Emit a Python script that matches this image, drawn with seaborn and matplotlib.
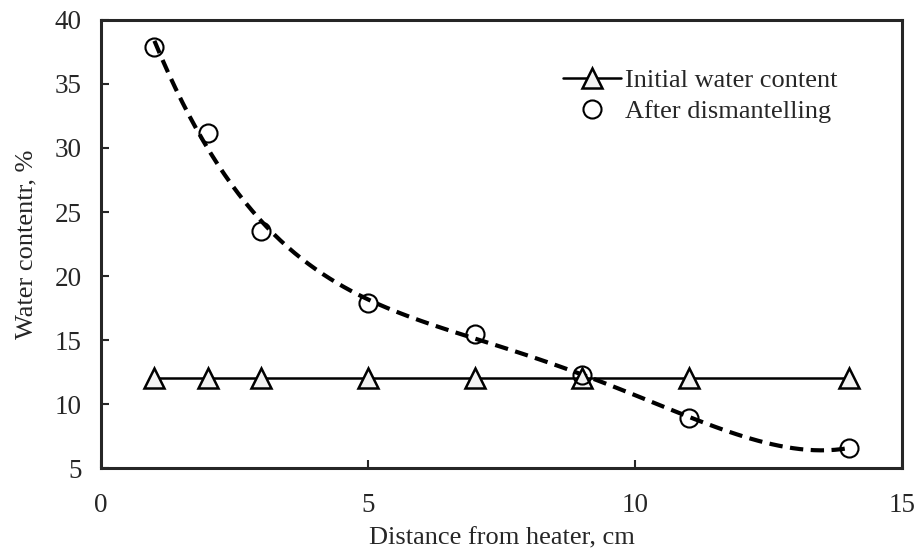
import seaborn as sns
import pandas as pd
import matplotlib.pyplot as plt

# data
distance = [1, 2, 3, 5, 7, 9, 11, 14]
initial_wc = [12, 12, 12, 12, 12, 12, 12, 12]
after_wc = [37.9, 31.2, 23.5, 17.9, 15.5, 12.3, 8.9, 6.6]

df = pd.DataFrame({"distance": distance, "initial": initial_wc, "after": after_wc})

sns.set_style("ticks")
plt.rcParams['font.family'] = ['Liberation Serif', 'DejaVu Serif']
plt.rcParams['xtick.direction'] = 'in'
plt.rcParams['ytick.direction'] = 'in'

fig = plt.figure(figsize=(9.18, 5.54), dpi=100)
ax = fig.add_axes([0.110, 0.155, 0.873, 0.809])

# polynomial trendline through the measured points
sns.regplot(data=df, x="distance", y="after", order=4, ci=None, scatter=False, ax=ax,
            line_kws=dict(color="black", lw=3, ls=(0, (3.2, 1.8)), zorder=2))

sns.lineplot(data=df, x="distance", y="initial", ax=ax, color="black", lw=1.8,
             marker="^", markersize=14, markerfacecolor="#f2f2f2",
             markeredgecolor="black", markeredgewidth=1.8,
             label="Initial water content", zorder=3)
ax.plot(df["distance"], df["after"], ls="none", marker="o", markersize=13,
        markerfacecolor="none", markeredgecolor="black", markeredgewidth=1.5,
        label="After dismantelling", zorder=4)

ax.set_xlim(0, 15)
ax.set_ylim(5, 40)
ax.set_xticks([0, 5, 10, 15])
ax.set_yticks([5, 10, 15, 20, 25, 30, 35, 40])
ax.tick_params(labelsize=19.5, length=6, width=1.5, pad=14)
ax.tick_params(axis='x', pad=18)
for s in ax.spines.values():
    s.set_linewidth(2.2)
    s.set_visible(True)

ax.set_xlabel("Distance from heater, cm", fontsize=19, labelpad=7)
ax.set_ylabel("Water contentr, %", fontsize=19, labelpad=12)

ax.legend(loc="upper left", bbox_to_anchor=(0.547, 0.945), frameon=False,
          fontsize=19, handlelength=2.2, handletextpad=0.15, labelspacing=0.3)

fig.savefig("out.png", dpi=100)
